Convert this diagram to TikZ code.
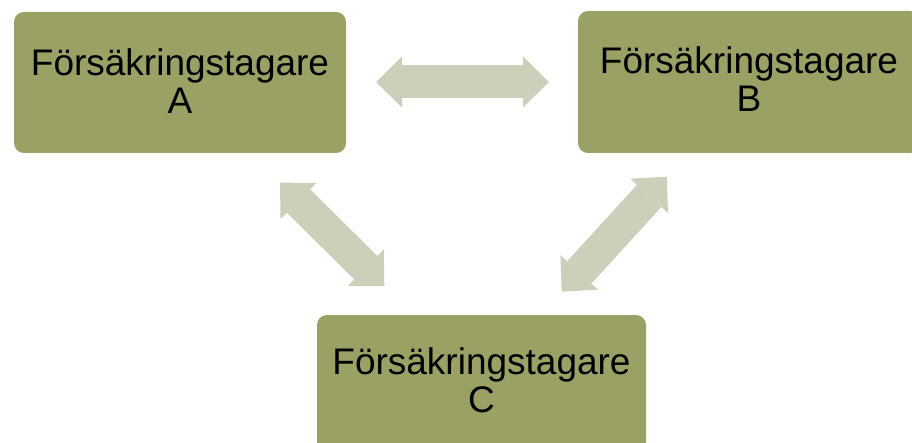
\documentclass[tikz,border=0pt]{standalone}
\usepackage{fontspec}
\setmainfont{Liberation Sans}
\usetikzlibrary{arrows.meta}
\definecolor{boxolive}{RGB}{155,161,101}
\definecolor{arrowgrey}{RGB}{204,207,185}
\tikzset{
  stagebox/.style={draw=none, fill=boxolive, rounded corners=10pt, inner sep=0pt,
    align=center, text=black, font=\fontsize{37pt}{38.5pt}\selectfont, text height=65.5pt},
  blockarrow/.style={draw=arrowgrey, line width=33pt,
    {Triangle[length=26pt,width=51pt,line width=0pt]}-{Triangle[length=26pt,width=51pt,line width=0pt]}}
}
\begin{document}
\begin{tikzpicture}[x=1pt,y=-1pt]
\useasboundingbox (0,0) rectangle (912,443);
\clip (0,0) rectangle (912,443);
\node[stagebox, minimum width=332pt, minimum height=141pt, text depth=2.5pt] (A) at (180,82.5) {Försäkringstagare\\A};
\node[stagebox, minimum width=342pt, minimum height=142pt, text depth=6pt] (B) at (749,82) {Försäkringstagare\\B};
\node[stagebox, minimum width=329pt, minimum height=141pt, text depth=11.5pt] (C) at (481.5,385.5) {Försäkringstagare\\C};
\coordinate (h1) at (376,82);
\coordinate (h2) at (549,82);
\coordinate (l1) at (280,182.7);
\coordinate (l2) at (384.3,286);
\coordinate (r1) at (561.7,291.7);
\coordinate (r2) at (666.7,176.7);
\draw[blockarrow] (h1) -- (h2);
\draw[blockarrow] (l1) -- (l2);
\draw[blockarrow] (r1) -- (r2);
\end{tikzpicture}
\end{document}
